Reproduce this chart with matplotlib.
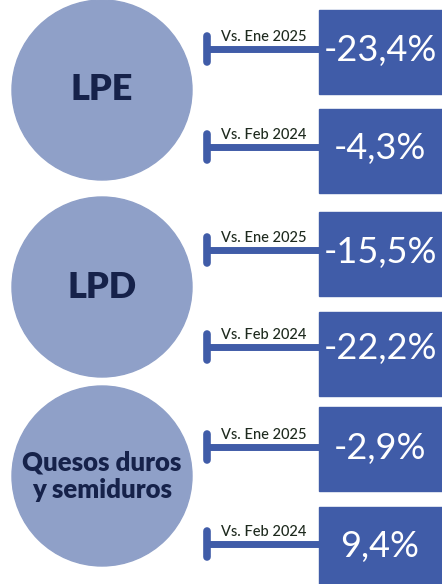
import matplotlib.pyplot as plt
from matplotlib.patches import Circle, Rectangle

# Datos
categorias = ["LPE", "LPD", "Quesos duros\ny semiduros"]
comparaciones = ["Vs. Ene 2025", "Vs. Feb 2024"]
valores = [[-23.4, -4.3], [-15.5, -22.2], [-2.9, 9.4]]

# Colores
c_circulo = "#8fa0c8"
c_caja = "#405ca8"
c_texto = "#16224a"


def fmt(v):
    return f"{v:.1f}".replace(".", ",") + "%"


fig = plt.figure(figsize=(4.42, 5.84), dpi=100)
ax = fig.add_axes([0, 0, 1, 1])
ax.set_xlim(0, 442)
ax.set_ylim(584, 0)
ax.axis("off")

centros_y = [90, 287, 476]
lineas_y = [[49, 147], [250, 347], [447, 544]]
cajas_y = [[10, 109], [212, 312], [407, 507]]

for i, cat in enumerate(categorias):
    ax.add_patch(Circle((102, centros_y[i]), 90, color=c_circulo, zorder=1))
    fs = 26 if "\n" not in cat else 18.5
    ax.text(102, centros_y[i], cat, ha="center", va="center", fontsize=fs,
            fontweight="heavy", color=c_texto, family="Lato", linespacing=1.2)
    for j, comp in enumerate(comparaciones):
        y = lineas_y[i][j]
        yb = cajas_y[i][j]
        ax.add_patch(Rectangle((319, yb), 130, 84, color=c_caja, zorder=2))
        ax.plot([207, 319], [y, y], color=c_caja, lw=5, solid_capstyle="butt", zorder=3)
        ax.plot([207, 207], [y - 13, y + 13], color=c_caja, lw=5.5,
                solid_capstyle="round", zorder=3)
        ax.text(264, y - 5, comp, ha="center", va="bottom", fontsize=10.5,
                color="#1e2a1e", family="Lato", fontweight="medium")
        ax.text(380, y + 2, fmt(valores[i][j]), ha="center", va="center",
                fontsize=26, color="white", family="Lato", fontweight="normal",
                zorder=4)

fig.savefig("out.png", dpi=100)
